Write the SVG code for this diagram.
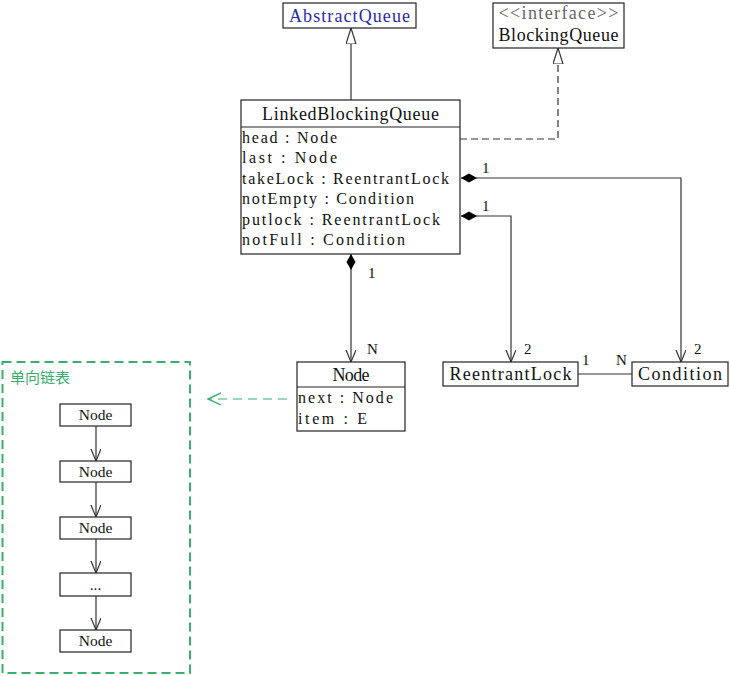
<svg xmlns="http://www.w3.org/2000/svg" width="730" height="676" viewBox="0 0 730 676">
<defs>
<style>
.box{fill:#fff;stroke:#222;stroke-width:1.2}
.cn{font-family:"Liberation Serif",serif;font-size:18px;fill:#111;text-anchor:middle}
.at{font-family:"Liberation Serif",serif;font-size:16px;fill:#111}
.lb{font-family:"Liberation Serif",serif;font-size:15px;fill:#111}
.ln{fill:none;stroke:#333;stroke-width:1.2}
.sn{font-family:"Liberation Serif",serif;font-size:15.5px;fill:#111;text-anchor:middle}
.green{stroke:#3aae6e}
</style>
<marker id="tri" markerUnits="userSpaceOnUse" markerWidth="18" markerHeight="12" refX="16" refY="5" orient="auto"><path d="M0,0 L16,5 L0,10 Z" fill="#fff" stroke="#333" stroke-width="1.2"/></marker>
<marker id="dia" markerUnits="userSpaceOnUse" markerWidth="18" markerHeight="12" refX="0" refY="5" orient="auto"><path d="M0,5 L8,0.5 L16,5 L8,9.5 Z" fill="#000"/></marker>
<marker id="open" markerUnits="userSpaceOnUse" markerWidth="14" markerHeight="12" refX="12" refY="5" orient="auto"><path d="M0,0 L12,5 L0,10" fill="none" stroke="#333" stroke-width="1.2"/></marker>
<marker id="openg" markerUnits="userSpaceOnUse" markerWidth="16" markerHeight="14" refX="13" refY="6" orient="auto"><path d="M0,0 L13,6 L0,12" fill="none" stroke="#3aae6e" stroke-width="1.4"/></marker>
</defs>
<rect width="730" height="676" fill="#fff"/>

<g id="connectors">
<path class="ln" d="M351,100 L351,28" marker-end="url(#tri)"/>
<path class="ln" d="M460,139 L558,139 L558,48" stroke-dasharray="7,4" marker-end="url(#tri)"/>
<path class="ln" d="M461,178 L681,178 L681,362" marker-start="url(#dia)" marker-end="url(#open)"/>
<path class="ln" d="M461,216 L511,216 L511,362" marker-start="url(#dia)" marker-end="url(#open)"/>
<path class="ln" d="M351,254 L351,362" marker-start="url(#dia)" marker-end="url(#open)"/>
<path class="ln" d="M578,374 L632,374"/>
<path class="ln green" d="M287,399 L208,399" stroke-width="1.4" stroke-dasharray="9,6" marker-end="url(#openg)"/>
<path class="ln" d="M96,426 L96,461" marker-end="url(#open)"/>
<path class="ln" d="M96,482 L96,517" marker-end="url(#open)"/>
<path class="ln" d="M96,539 L96,573" marker-end="url(#open)"/>
<path class="ln" d="M96,596 L96,630" marker-end="url(#open)"/>
<text class="lb" x="482" y="173">1</text>
<text class="lb" x="482" y="211">1</text>
<text class="lb" x="524" y="354">2</text>
<text class="lb" x="694" y="354">2</text>
<text class="lb" x="582" y="365">1</text>
<text class="lb" x="616" y="365">N</text>
<text class="lb" x="368" y="278">1</text>
<text class="lb" x="367" y="354">N</text>
</g>

<g id="AbstractQueue">
<rect class="box" x="283" y="3" width="133" height="25"/>
<text class="cn" x="349.5" y="21.5" style="fill:#2a2aa8" textLength="121" lengthAdjust="spacing">AbstractQueue</text>
</g>

<g id="BlockingQueue">
<rect class="box" x="493" y="3" width="131" height="45"/>
<text class="cn" x="558.5" y="19" style="fill:#666" textLength="120" lengthAdjust="spacing">&lt;&lt;interface&gt;&gt;</text>
<text class="cn" x="558.5" y="41" textLength="120" lengthAdjust="spacing">BlockingQueue</text>
</g>

<g id="LinkedBlockingQueue">
<rect class="box" x="241" y="100" width="219" height="154"/>
<line class="ln" x1="241" y1="127" x2="460" y2="127" style="stroke:#222"/>
<text class="cn" x="350.5" y="120" textLength="177" lengthAdjust="spacing">LinkedBlockingQueue</text>
<text class="at" x="242" y="142.5" textLength="95" lengthAdjust="spacing">head : Node</text>
<text class="at" x="242" y="163" textLength="95" lengthAdjust="spacing">last : Node</text>
<text class="at" x="242" y="183.5" textLength="207" lengthAdjust="spacing">takeLock : ReentrantLock</text>
<text class="at" x="242" y="204" textLength="172" lengthAdjust="spacing">notEmpty : Condition</text>
<text class="at" x="242" y="224.5" textLength="198" lengthAdjust="spacing">putlock : ReentrantLock</text>
<text class="at" x="242" y="245" textLength="163" lengthAdjust="spacing">notFull : Condition</text>
</g>

<g id="Node">
<rect class="box" x="297" y="362" width="108" height="69"/>
<line class="ln" x1="297" y1="387" x2="405" y2="387" style="stroke:#222"/>
<text class="cn" x="351" y="380.5" textLength="37" lengthAdjust="spacing">Node</text>
<text class="at" x="298" y="402.5" textLength="95" lengthAdjust="spacing">next : Node</text>
<text class="at" x="298" y="423.5" textLength="69" lengthAdjust="spacing">item : E</text>
</g>

<g id="ReentrantLock">
<rect class="box" x="443" y="362" width="135" height="24"/>
<text class="cn" x="510.5" y="380" textLength="122" lengthAdjust="spacing">ReentrantLock</text>
</g>

<g id="Condition">
<rect class="box" x="632" y="362" width="96" height="24"/>
<text class="cn" x="680" y="380" textLength="84" lengthAdjust="spacing">Condition</text>
</g>

<g id="LinkedList">
<rect x="2.5" y="362" width="187.5" height="311" fill="none" stroke="#3aae6e" stroke-width="2" stroke-dasharray="9,5"/>
<text x="10" y="383" font-family="'Noto Sans CJK SC',sans-serif" font-size="15" fill="#3aae6e">单向链表</text>
</g>

<g id="ListNode1"><rect class="box" x="60" y="404" width="71" height="22"/><text class="sn" x="95.5" y="420">Node</text></g>
<g id="ListNode2"><rect class="box" x="60" y="461" width="71" height="21"/><text class="sn" x="95.5" y="477">Node</text></g>
<g id="ListNode3"><rect class="box" x="60" y="517" width="71" height="22"/><text class="sn" x="95.5" y="533">Node</text></g>
<g id="ListNode4"><rect class="box" x="60" y="573" width="71" height="23"/><text class="sn" x="95.5" y="590">...</text></g>
<g id="ListNode5"><rect class="box" x="60" y="630" width="71" height="22"/><text class="sn" x="95.5" y="646">Node</text></g>
</svg>
